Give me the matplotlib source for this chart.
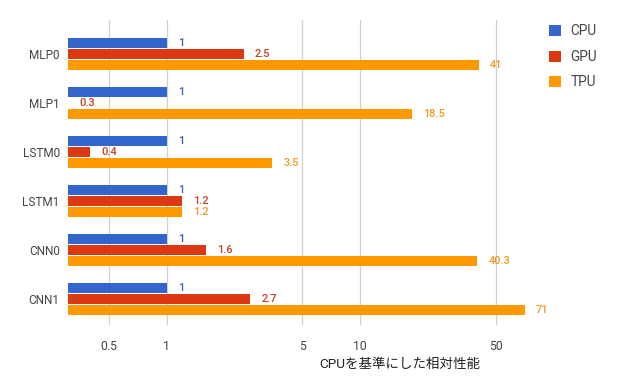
import numpy as np
import matplotlib as mpl
mpl.use('Agg')
from matplotlib import pyplot as plt
from matplotlib.patches import Patch

# data ------------------------------------------------------------------------
models = ['MLP0', 'MLP1', 'LSTM0', 'LSTM1', 'CNN0', 'CNN1']
cpu = [1, 1, 1, 1, 1, 1]
gpu = [2.5, 0.3, 0.4, 1.2, 1.6, 2.7]
tpu = [41, 18.5, 3.5, 1.2, 40.3, 71]
series = ['CPU', 'GPU', 'TPU']
xticks = [0.5, 1, 5, 10, 50]
xlabel = 'CPUを基準にした相対性能'

colors = ['#3366cc', '#dc3912', '#ff9900']
txt_colors = ['#3a5fb0', '#c4401f', '#ee9a22']

plt.rcParams['font.family'] = ['Roboto', 'Noto Sans CJK JP', 'DejaVu Sans']

fig = plt.figure(figsize=(6.3, 3.78), dpi=100)
ax = fig.add_axes([68/630, 53/378, (535-68)/630, (325-20)/378])

xmin, xmax = 0.308, 80
ax.set_xscale('log')
ax.set_xlim(xmin, xmax)

y = np.arange(len(models))
h = 0.205
step = 0.228
for k, (vals, c, tc) in enumerate(zip([cpu, gpu, tpu], colors, txt_colors)):
    yy = y + (k - 1) * step
    ax.barh(yy, np.array(vals) - xmin, left=xmin, height=h, color=c, zorder=3)
    for v, yv in zip(vals, yy):
        ax.annotate(f'{v:g}', xy=(max(v, xmin), yv), xytext=(8, 0),
                    textcoords='offset points', va='center', ha='left',
                    fontsize=7.9, color=tc, fontweight='medium')

ax.set_ylim(5.53, -0.69)
ax.set_yticks(y)
ax.set_yticklabels(models, fontsize=8.5, color='#444444')
ax.set_xticks(xticks)
ax.set_xticklabels([f'{t:g}' for t in xticks], fontsize=8.8, color='#444444')
ax.xaxis.set_minor_locator(mpl.ticker.NullLocator())
ax.tick_params(length=0, pad=6)
ax.tick_params(axis='x', pad=11)
ax.grid(axis='x', color='#d0d0d0', lw=0.9, zorder=0)
for s in ax.spines.values():
    s.set_visible(False)

fig.text(400/630, 1 - 364/378, xlabel, ha='center', va='center',
         fontsize=9.7, color='#222222')

handles = [Patch(facecolor=c, edgecolor='none') for c in colors]
fig.legend(handles, series, loc='upper left', bbox_to_anchor=(537/630, 1 - 12/378),
           frameon=False, fontsize=9.8, handlelength=0.85, handleheight=0.85,
           labelspacing=0.85, handletextpad=0.7, labelcolor='#444444')

fig.savefig('out.png', dpi=100, facecolor='white')
